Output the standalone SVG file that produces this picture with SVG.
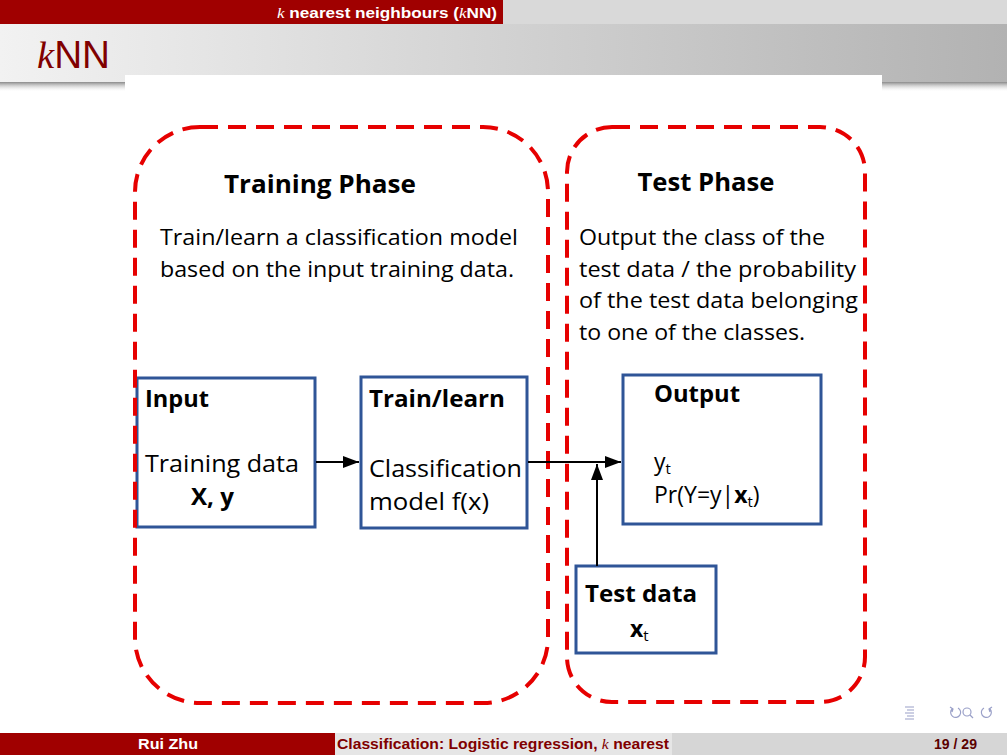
<svg xmlns="http://www.w3.org/2000/svg" width="1007" height="755" viewBox="0 0 1007 755">
  <defs>
    <linearGradient id="band" x1="0" y1="0" x2="1" y2="0">
      <stop offset="0" stop-color="#f2f2f2"/>
      <stop offset="1" stop-color="#b2b2b2"/>
    </linearGradient>
    <linearGradient id="shade" x1="0" y1="0" x2="0" y2="1">
      <stop offset="0" stop-color="#8a8a8a"/>
      <stop offset="1" stop-color="#ffffff" stop-opacity="0"/>
    </linearGradient>
    <marker id="head" viewBox="0 0 16 12" refX="16" refY="6" markerWidth="16" markerHeight="12" markerUnits="userSpaceOnUse" orient="auto">
      <path d="M0,0 L16,6 L0,12 z" fill="#000"/>
    </marker>
  </defs>
  <style>
    .sans { font-family: "Open Sans", "Liberation Sans", sans-serif; fill: #000; }
    .b { font-weight: bold; }
    .phase { stroke: #e60000; stroke-width: 4; fill: none; stroke-dasharray: 18 10; }
    .node { stroke: #2f5597; stroke-width: 3; fill: #fff; }
    .conn { stroke: #000; stroke-width: 2; fill: none; }
    .hdr { font-family: "Liberation Sans", sans-serif; font-weight: bold; font-size: 15px; }
    .mi { font-family: "Liberation Serif", serif; font-style: italic; font-weight: normal; }
  </style>

  <!-- page background -->
  <rect x="0" y="0" width="1007" height="755" fill="#fff"/>

  <!-- header bar -->
  <rect x="0" y="0" width="503" height="24" fill="#a00000"/>
  <rect x="503" y="0" width="504" height="24" fill="#d9d9d9"/>
  <text x="277" y="18" class="hdr" fill="#fff" textLength="220" lengthAdjust="spacingAndGlyphs"><tspan class="mi">k</tspan> nearest neighbours (<tspan class="mi">k</tspan>NN)</text>

  <!-- title band -->
  <rect x="0" y="24" width="1007" height="58" fill="url(#band)"/>
  <rect x="0" y="82" width="1007" height="10" fill="url(#shade)"/>
  <text x="37" y="68" font-size="38" fill="#800000" font-family="Liberation Sans, sans-serif" textLength="73" lengthAdjust="spacingAndGlyphs"><tspan class="mi">k</tspan>NN</text>

  <!-- slide content area -->
  <rect x="125" y="75" width="757" height="630" fill="#fff"/>

  <!-- phase captions -->
  <g id="training-phase-text">
    <text class="sans b" x="320" y="193" font-size="25" text-anchor="middle" textLength="192" lengthAdjust="spacingAndGlyphs">Training Phase</text>
    <text class="sans" x="160" y="245" font-size="22" textLength="358" lengthAdjust="spacingAndGlyphs">Train/learn a classification model</text>
    <text class="sans" x="160" y="277" font-size="22" textLength="354" lengthAdjust="spacingAndGlyphs">based on the input training data.</text>
  </g>
  <g id="test-phase-text">
    <text class="sans b" x="706" y="191" font-size="25" text-anchor="middle" textLength="137" lengthAdjust="spacingAndGlyphs">Test Phase</text>
    <text class="sans" x="579" y="245" font-size="22" textLength="246" lengthAdjust="spacingAndGlyphs">Output the class of the</text>
    <text class="sans" x="579" y="277" font-size="22" textLength="277" lengthAdjust="spacingAndGlyphs">test data / the probability</text>
    <text class="sans" x="579" y="308" font-size="22" textLength="279" lengthAdjust="spacingAndGlyphs">of the test data belonging</text>
    <text class="sans" x="579" y="340" font-size="22" textLength="226" lengthAdjust="spacingAndGlyphs">to one of the classes.</text>
  </g>

  <!-- nodes -->
  <g id="input">
    <rect class="node" x="137" y="378" width="178" height="149"/>
    <text class="sans b" x="145" y="407" font-size="23" textLength="64" lengthAdjust="spacingAndGlyphs">Input</text>
    <text class="sans" x="145" y="472" font-size="23" textLength="154" lengthAdjust="spacingAndGlyphs">Training data</text>
    <text class="sans b" x="191" y="505" font-size="23" textLength="43" lengthAdjust="spacingAndGlyphs">X, y</text>
  </g>
  <g id="train-learn">
    <rect class="node" x="361" y="377" width="166" height="151"/>
    <text class="sans b" x="369" y="407" font-size="23" textLength="136" lengthAdjust="spacingAndGlyphs">Train/learn</text>
    <text class="sans" x="369" y="477" font-size="23" textLength="153" lengthAdjust="spacingAndGlyphs">Classification</text>
    <text class="sans" x="369" y="510" font-size="23" textLength="120" lengthAdjust="spacingAndGlyphs">model f(x)</text>
  </g>
  <g id="output">
    <rect class="node" x="623" y="375" width="198" height="149"/>
    <text class="sans b" x="654" y="402" font-size="23" textLength="86" lengthAdjust="spacingAndGlyphs">Output</text>
    <text class="sans" x="654" y="470" font-size="23">y<tspan font-size="15" dy="4">t</tspan></text>
    <text class="sans" x="654" y="503" font-size="23">Pr(Y=y|<tspan font-weight="bold">x</tspan><tspan font-size="15" dy="4">t</tspan><tspan dy="-4">)</tspan></text>
  </g>
  <g id="test-data">
    <rect class="node" x="576" y="566" width="140" height="87"/>
    <text class="sans b" x="585" y="602" font-size="23" textLength="112" lengthAdjust="spacingAndGlyphs">Test data</text>
    <text class="sans" x="630" y="637" font-size="23"><tspan font-weight="bold">x</tspan><tspan font-size="15" dy="4">t</tspan></text>
  </g>

  <!-- dashed phase outlines, drawn over the node borders -->
  <g id="phases">
    <rect class="phase" x="135" y="127" width="413" height="576" rx="65" ry="65"/>
    <rect class="phase" x="567" y="127" width="298" height="575" rx="45" ry="45"/>
  </g>

  <!-- connectors -->
  <g id="connectors">
    <line class="conn" x1="316" y1="462" x2="359" y2="462" marker-end="url(#head)"/>
    <line class="conn" x1="528" y1="462" x2="621" y2="462" marker-end="url(#head)"/>
    <line class="conn" x1="597" y1="566" x2="597" y2="464" marker-end="url(#head)"/>
  </g>

  <!-- navigation symbols -->
  <g fill="none" stroke="#9aa0c8" stroke-width="1.2">
    <path d="M905,707 h9 M907,710 h7 M905,713 h9 M907,716 h7 M905,719 h9"/>
    <path d="M952,709 a5,5 0 1 0 6,-1 M950,707 l3,2 l-1,3"/>
    <circle cx="967" cy="712" r="4"/>
    <path d="M970,715 l3,3"/>
    <path d="M990,709 a5,5 0 1 1 -6,-1 M992,707 l-3,2 l1,3"/>
  </g>

  <!-- footer -->
  <rect x="0" y="733" width="335" height="22" fill="#a00000"/>
  <rect x="335" y="733" width="337" height="22" fill="#e6e6e6"/>
  <rect x="672" y="733" width="335" height="22" fill="#d6d6d6"/>
  <text x="138" y="749" class="hdr" fill="#fff" textLength="60" lengthAdjust="spacingAndGlyphs">Rui Zhu</text>
  <text x="337" y="749" class="hdr" fill="#800000" textLength="332" lengthAdjust="spacingAndGlyphs">Classification: Logistic regression, <tspan class="mi">k</tspan> nearest</text>
  <text x="934" y="749" class="hdr" fill="#5a0000" textLength="43" lengthAdjust="spacingAndGlyphs">19 / 29</text>
</svg>
